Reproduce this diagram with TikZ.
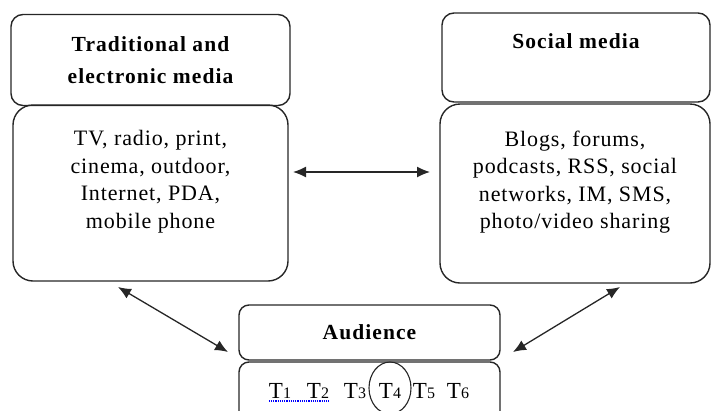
\documentclass[tikz,border=0pt]{standalone}
\usepackage{fontspec}
\setmainfont{Liberation Serif}
\usetikzlibrary{arrows.meta}
\begin{document}
\begin{tikzpicture}[x=1pt,y=-1pt,
  box/.style={draw=black!85, line width=1.4pt, align=center, inner sep=0pt},
  titlebox/.style={box, rounded corners=12pt, font=\fontsize{21.5}{32}\selectfont\bfseries\addfontfeature{LetterSpace=5}},
  bodybox/.style={box, rounded corners=20pt, font=\fontsize{22}{27.5}\selectfont\addfontfeature{LetterSpace=4}},
  tlab/.style={inner sep=0pt, anchor=base, font=\fontsize{23}{23}\selectfont},
  link/.style={line width=1.3pt, black!85, {Latex[length=13pt,width=11pt]}-{Latex[length=13pt,width=11pt]}}]
\useasboundingbox (0,0) rectangle (712,410);
\clip (0,0) rectangle (712,410);
\newcommand{\dg}[1]{{\fontsize{16}{16}\selectfont #1}}
% boxes
\node[titlebox, minimum width=279pt, minimum height=91pt] (lt) at (150.5,60) {Traditional and\\electronic media};
\node[bodybox, minimum width=275pt, minimum height=176pt] (lb) at (150.5,193) {TV, radio, print,\\cinema, outdoor,\\Internet, PDA,\\mobile phone\\~};
\node[titlebox, minimum width=268pt, minimum height=89pt] (rt) at (576,57.5) {Social media\\~};
\node[bodybox, minimum width=270pt, minimum height=179pt] (rb) at (575,193.5) {Blogs, forums,\\podcasts, RSS, social\\networks, IM, SMS,\\photo/video sharing\\~};
\node[titlebox, rounded corners=10pt, minimum width=261pt, minimum height=55pt] (at) at (369.5,332.5) {Audience};
\node[box, rounded corners=10pt, minimum width=261pt, minimum height=66pt] (ab) at (369.5,395) {};
% T labels
\node[tlab] (t1) at (280,398) {T\dg{1}};
\node[tlab] (t2) at (318,398) {T\dg{2}};
\node[tlab] (t3) at (355,398) {T\dg{3}};
\node[tlab] (t4) at (390,398) {T\dg{4}};
\node[tlab] (t5) at (424,398) {T\dg{5}};
\node[tlab] (t6) at (458,398) {T\dg{6}};
\draw[line width=1.1pt, black!85] ([yshift=10pt]t4.base) ellipse (21pt and 26pt);
\draw[blue, densely dotted, line width=1.2pt] ([yshift=-3pt]t1.base west) -- ([yshift=-3pt]t2.base east);
% connector end points
\coordinate (m1) at (293,172);
\coordinate (m2) at (430,172);
\coordinate (l1) at (118,287);
\coordinate (l2) at (228,352);
\coordinate (r1) at (620,287);
\coordinate (r2) at (513,352);
\draw[link] (m1) -- (m2);
\draw[link] (l1) -- (l2);
\draw[link] (r2) -- (r1);
\end{tikzpicture}
\end{document}
